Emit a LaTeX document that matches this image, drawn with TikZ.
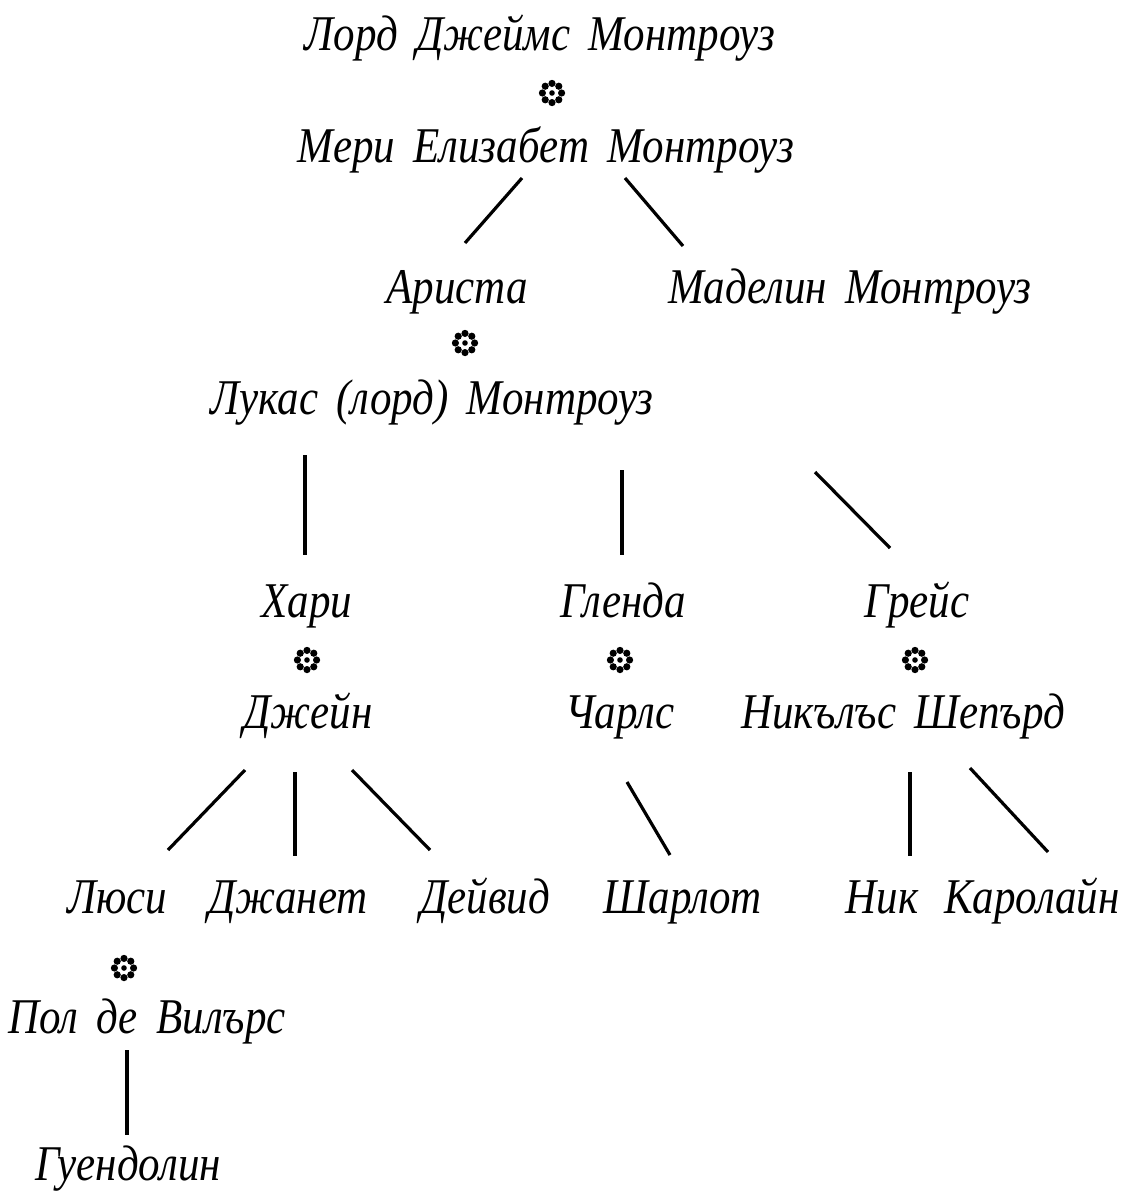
\documentclass[tikz,border=0pt]{standalone}
\usepackage{fontspec}
\setmainfont{Liberation Serif}[FakeStretch=0.86,WordSpace=1.7]
\begin{document}
\begin{tikzpicture}[x=1pt,y=-1pt,
  person/.style={anchor=base,inner sep=0pt,font=\fontsize{50}{60}\selectfont\itshape},
  link/.style={line width=3.2pt},
  flower/.pic={
    \foreach \a in {0,45,...,315}{\fill (\a:9.6) circle (3.6);}
    \fill (0,0) circle (2.8);
  }]
\useasboundingbox (0,0) rectangle (1148,1203);
% names
\node[person] (james) at (540,50) {Лорд Джеймс Монтроуз};
\node[person] (mary) at (546,162) {Мери Елизабет Монтроуз};
\node[person] (arista) at (457,303) {Ариста};
\node[person] (madeline) at (850,303) {Маделин Монтроуз};
\node[person] (lucas) at (432,414) {Лукас (лорд) Монтроуз};
\node[person] (harry) at (307,617) {Хари};
\node[person] (glenda) at (623,617) {Гленда};
\node[person] (grace) at (917,617) {Грейс};
\node[person] (jane) at (308,728) {Джейн};
\node[person] (charles) at (620,728) {Чарлс};
\node[person] (nicholas) at (903,728) {Никълъс Шепърд};
\node[person] (lucy) at (117,913) {Люси};
\node[person] (janet) at (288,913) {Джанет};
\node[person] (david) at (485,913) {Дейвид};
\node[person] (charlotte) at (683,913) {Шарлот};
\node[person] (nick) at (882,913) {Ник};
\node[person] (caroline) at (1032,913) {Каролайн};
\node[person] (paul) at (147,1033) {Пол де Вилърс};
\node[person] (gwen) at (128,1180) {Гуендолин};
% marriage marks
\pic at (552,93) {flower};
\pic at (465,343) {flower};
\pic at (307,660) {flower};
\pic at (620,660) {flower};
\pic at (915,660) {flower};
\pic at (124,968) {flower};
% connector end points
\coordinate (a1) at (522,178); \coordinate (a2) at (465,243);
\coordinate (b1) at (625,178); \coordinate (b2) at (683,246);
\coordinate (c1) at (305,455); \coordinate (c2) at (305,555);
\coordinate (d1) at (622,470); \coordinate (d2) at (622,555);
\coordinate (e1) at (815,472); \coordinate (e2) at (890,548);
\coordinate (f1) at (245,770); \coordinate (f2) at (168,850);
\coordinate (g1) at (295,772); \coordinate (g2) at (295,856);
\coordinate (h1) at (352,770); \coordinate (h2) at (430,850);
\coordinate (i1) at (627,782); \coordinate (i2) at (670,855);
\coordinate (j1) at (910,772); \coordinate (j2) at (910,856);
\coordinate (k1) at (970,768); \coordinate (k2) at (1048,852);
\coordinate (m1) at (127,1050); \coordinate (m2) at (127,1135);
\foreach \p in {a,b,c,d,e,f,g,h,i,j,k,m}{\draw[link] (\p1) -- (\p2);}
\end{tikzpicture}
\end{document}
